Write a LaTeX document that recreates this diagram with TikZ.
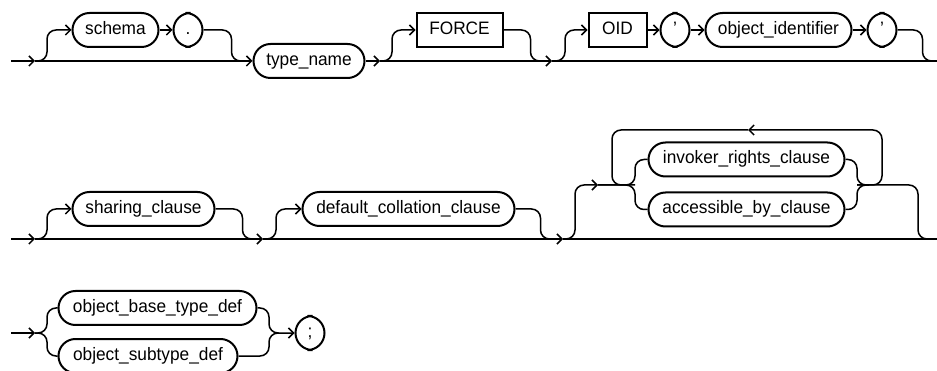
\documentclass[tikz,border=0pt]{standalone}
\usepackage{fontspec}
\setmainfont{Liberation Sans}[FakeStretch=0.96]
\usetikzlibrary{arrows.meta}
\begin{document}
\begin{tikzpicture}[x=1pt,y=-1pt,
  nt/.style={draw, line width=2pt, rounded corners=17pt, minimum height=34pt, inner sep=0pt,
    text height=13pt, text depth=4pt, font=\fontsize{18}{20}\selectfont},
  kw/.style={draw, line width=2pt, rectangle, minimum height=34pt, inner sep=0pt,
    text height=13pt, text depth=4pt, font=\fontsize{18}{20}\selectfont},
  conn/.style={line width=1.5pt, rounded corners=9pt},
  arr/.style={-{Straight Barb[length=5pt,width=10pt]}}]
\useasboundingbox (0,0) rectangle (937,371);
% ---------- row 1 ----------
\coordinate (s1) at (11,61);
\coordinate (a1) at (35,61);
\node[nt, minimum width=86] (schema) at (115.5,30) {schema};
\node[nt, minimum width=29] (dot) at (188,30) {.};
\node[nt, minimum width=111] (typename) at (309,61) {type\_name};
\coordinate (a2) at (380,61);
\node[kw, minimum width=86] (force) at (459.5,30) {FORCE};
\coordinate (a3) at (552,61);
\node[kw, minimum width=58] (oid) at (617.5,30) {OID};
\node[nt, minimum width=29] (q1) at (675,30) {'};
\node[nt, minimum width=146] (oidv) at (778.5,30) {object\_identifier};
\node[nt, minimum width=29] (q2) at (882,30) {'};
\coordinate (e1) at (937,61);
\draw[conn,arr] (s1) -- (a1);
\draw[conn,arr] (a1) -- (typename.west);
\draw[conn,arr] (a1) -- ++(12,0) |- (schema.west);
\draw[conn,arr] (schema) -- (dot);
\draw[conn] (dot.east) -| ++(28,31) -- ++(14,0);
\draw[conn,arr] (typename) -- (a2);
\draw[conn,arr] (a2) -- (a3);
\draw[conn,arr] (a2) -- ++(12,0) |- (force.west);
\draw[conn] (force.east) -| ++(27,31) -- ++(14,0);
\draw[conn,arr] (a3) -- ++(13,0) |- (oid.west);
\draw[conn,arr] (oid) -- (q1);
\draw[conn,arr] (q1) -- (oidv);
\draw[conn,arr] (oidv) -- (q2);
\draw[conn] (q2.east) -| ++(25,31) -- (e1);
\draw[conn] (a3) -- (e1);
% ---------- row 2 ----------
\coordinate (s2) at (11,239);
\coordinate (a4) at (35,239);
\node[nt, minimum width=142] (sharing) at (143.5,209) {sharing\_clause};
\coordinate (a5) at (263,239);
\node[nt, minimum width=212] (dcc) at (408.5,209) {default\_collation\_clause};
\coordinate (a6) at (563,239);
\coordinate (a7) at (598,185);
\coordinate (sp) at (635,185);
\node[nt, minimum width=196] (invoker) at (746.5,159.5) {invoker\_rights\_clause};
\node[nt, minimum width=196] (access) at (746.5,209.5) {accessible\_by\_clause};
\coordinate (jn) at (857,185);
\coordinate (lt) at (748,130);
\coordinate (e2) at (937,239);
\draw[conn,arr] (s2) -- (a4);
\draw[conn,arr] (a4) -- (a5);
\draw[conn,arr] (a4) -- ++(12,0) |- (sharing.west);
\draw[conn] (sharing.east) -| ++(27,30) -- ++(14,0);
\draw[conn,arr] (a5) -- ++(13,0) |- (dcc.west);
\draw[conn] (dcc.east) -| ++(25,30) -- ++(14,0);
\draw[conn,arr] (a5) -- (a6);
\draw[conn,arr] (a6) -- ++(12,0) |- (a7);
\draw[conn] (a7) -- (sp) |- (invoker.west);
\draw[conn] (a7) -- (sp) |- (access.west);
\draw[conn] (invoker.east) -| (jn) -- ++(12,0);
\draw[conn] (access.east) -| (jn) -- ++(12,0);
\draw[conn] (jn) -- ++(61,0) |- (e2);
\draw[conn,arr] (jn) -| ++(25,-55) -- (lt);
\draw[conn] (lt) -- ++(-136,0) |- (sp);
\draw[conn] (a6) -- (e2);
% ---------- row 3 ----------
\coordinate (s3) at (11,333);
\coordinate (a8) at (35,333);
\coordinate (sp3) at (47,333);
\node[nt, minimum width=198] (base) at (157.5,308) {object\_base\_type\_def};
\node[nt, minimum width=179] (sub) at (148,356) {object\_subtype\_def};
\coordinate (jn3) at (269,333);
\node[nt, minimum width=29] (semi) at (310,333) {;};
\draw[conn,arr] (s3) -- (a8);
\draw[conn] (a8) -- (sp3) |- (base.west);
\draw[conn] (a8) -- (sp3) |- (sub.west);
\draw[conn,arr] (base.east) -| (jn3) -- (semi.west);
\draw[conn] (sub.east) -| (jn3) -- ++(10,0);
\end{tikzpicture}
\end{document}
